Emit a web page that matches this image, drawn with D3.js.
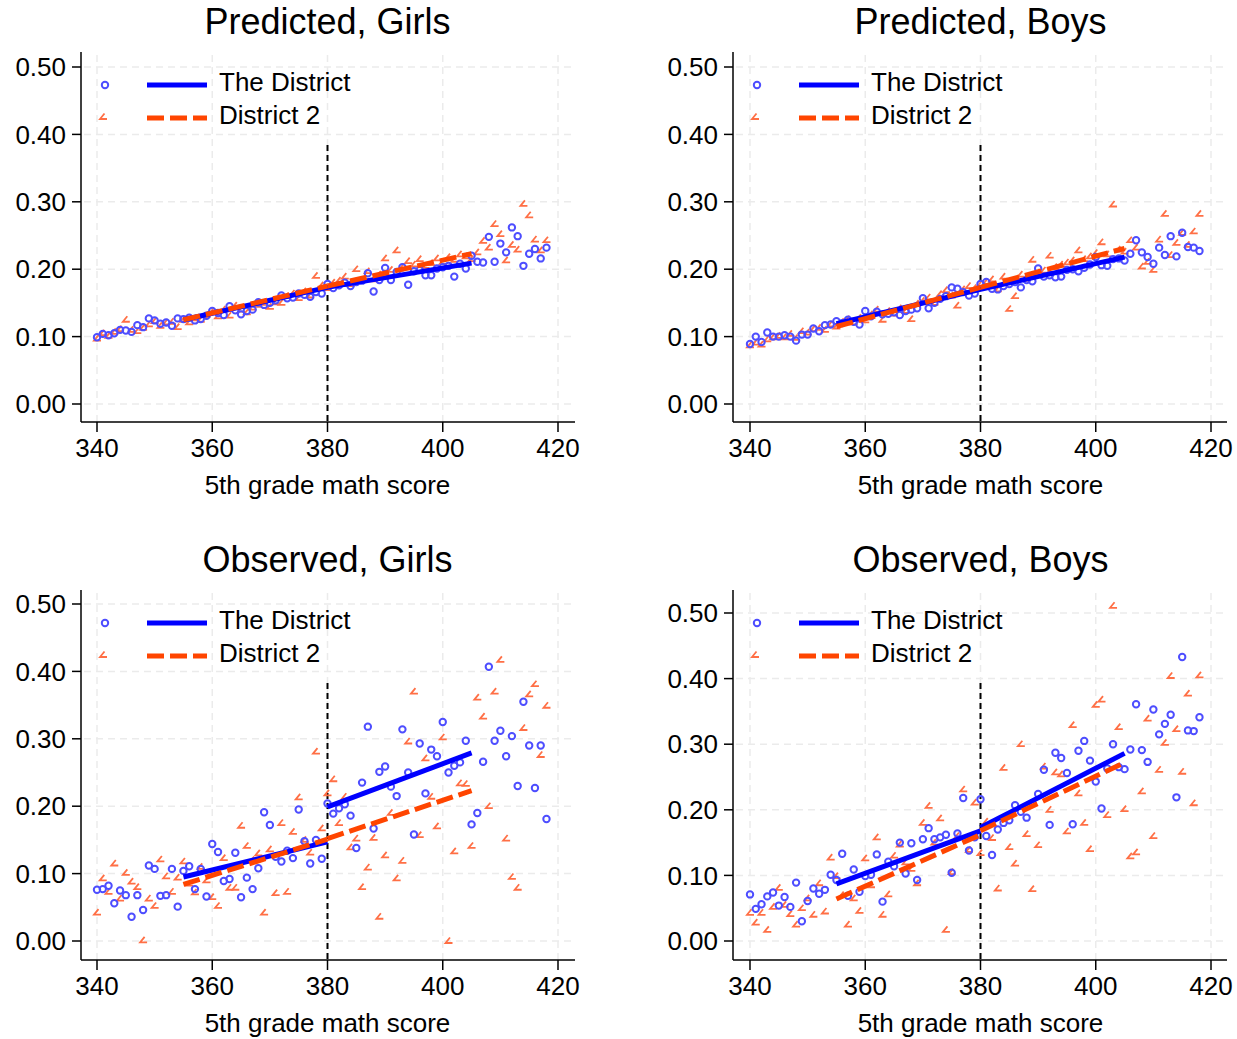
<!DOCTYPE html>
<html>
<head>
<meta charset="utf-8">
<script src="https://cdn.jsdelivr.net/npm/d3@7"></script>
<style>
  body { margin: 0; background: #fff; }
  svg { font-family: "Liberation Sans", Arial, sans-serif; }
</style>
</head>
<body>
<svg width="1237" height="1039"></svg>
<script>
// math scores 340..418, one point per score
const scores = d3.range(340, 419);
const xTicks = [340, 360, 380, 400, 420];
const yTicks = [0, 0.1, 0.2, 0.3, 0.4, 0.5];
const titles = ["Predicted, Girls", "Predicted, Boys", "Observed, Girls", "Observed, Boys"];
const seriesNames = ["The District", "District 2"];

const predGirlsDist = [
  .099,.104,.102,.105,.110,.109,.107,.117,.114,.127,
  .124,.119,.121,.116,.127,.126,.128,.124,.126,.131,
  .138,.135,.132,.145,.139,.133,.138,.140,.151,.147,
  .150,.154,.161,.157,.158,.164,.162,.159,.166,.164,
  .178,.172,.176,.180,.175,.181,.183,.194,.167,.184,
  .202,.184,.196,.203,.177,.197,.199,.191,.191,.201,
  .203,.205,.189,.208,.201,.220,.211,.210,.248,.211,
  .238,.225,.262,.249,.205,.223,.230,.216,.232];
const predGirlsD2 = [
  .097,.105,.101,.107,.111,.125,.110,.108,.113,.118,
  .123,.116,.121,.122,.114,.125,.121,.127,.125,.132,
  .137,.130,.140,.131,.146,.140,.136,.143,.147,.150,
  .144,.151,.150,.160,.164,.157,.167,.161,.190,.176,
  .172,.180,.183,.189,.178,.200,.184,.197,.185,.192,
  .216,.199,.228,.203,.212,.207,.215,.205,.209,.216,
  .211,.218,.214,.222,.219,.215,.225,.242,.232,.267,
  .252,.213,.236,.229,.297,.280,.244,.228,.243];
const predBoysDist = [
  .089,.100,.092,.106,.100,.100,.102,.100,.094,.103,
  .103,.112,.108,.117,.118,.123,.120,.125,.122,.118,
  .138,.130,.137,.133,.134,.136,.132,.138,.140,.142,
  .157,.142,.150,.156,.160,.173,.171,.166,.161,.164,
  .178,.181,.171,.170,.175,.178,.181,.173,.184,.182,
  .201,.189,.191,.188,.189,.199,.200,.197,.202,.207,
  .218,.206,.205,.215,.216,.213,.223,.243,.225,.218,
  .208,.232,.221,.249,.219,.254,.233,.232,.227];
const predBoysD2 = [
  .087,.091,.088,.096,.099,.101,.099,.104,.098,.108,
  .106,.111,.113,.110,.118,.115,.122,.126,.121,.128,
  .124,.133,.140,.125,.138,.134,.142,.138,.126,.149,
  .153,.158,.150,.163,.169,.161,.146,.170,.175,.172,
  .178,.181,.185,.170,.189,.141,.160,.192,.186,.214,
  .195,.198,.220,.203,.207,.210,.213,.228,.215,.219,
  .224,.240,.222,.296,.229,.226,.243,.232,.204,.211,
  .199,.244,.282,.221,.239,.254,.236,.256,.282];
const obsGirlsDist = [
  .076,.077,.082,.056,.075,.068,.036,.068,.046,.112,
  .107,.067,.068,.107,.051,.104,.111,.077,.107,.066,
  .144,.132,.089,.092,.131,.065,.094,.077,.108,.191,
  .172,.125,.118,.134,.123,.195,.148,.115,.150,.122,
  .204,.189,.197,.203,.186,.138,.235,.318,.167,.251,
  .259,.229,.215,.314,.250,.158,.293,.219,.284,.274,
  .325,.250,.260,.265,.297,.173,.190,.266,.407,.297,
  .312,.274,.304,.230,.355,.290,.227,.290,.181];
const obsGirlsD2 = [
  .042,.093,.073,.115,.063,.101,.088,.080,.001,.063,
  .052,.121,.096,.073,.094,.118,.085,.072,.110,.090,
  .065,.052,.123,.079,.079,.171,.141,.120,.130,.042,
  .136,.071,.175,.073,.162,.213,.150,.131,.281,.167,
  .219,.240,.175,.214,.139,.152,.080,.109,.153,.036,
  .127,.190,.093,.119,.296,.370,.157,.271,.214,.170,
  .302,.000,.133,.234,.233,.141,.361,.333,.200,.370,
  .417,.152,.095,.079,.316,.366,.381,.276,.349];
const obsBoysDist = [
  .071,.049,.056,.068,.074,.054,.067,.052,.089,.030,
  .061,.080,.072,.078,.101,.093,.133,.069,.109,.075,
  .099,.101,.132,.060,.121,.114,.150,.103,.149,.093,
  .155,.172,.155,.158,.162,.104,.164,.218,.138,.158,
  .216,.160,.131,.170,.180,.184,.207,.197,.188,.210,
  .224,.261,.177,.287,.279,.256,.178,.290,.305,.275,
  .243,.202,.263,.300,.265,.262,.292,.361,.291,.273,
  .353,.315,.331,.345,.219,.433,.321,.320,.341];
const obsBoysD2 = [
  .043,.028,.043,.017,.052,.081,.055,.041,.025,.050,
  .065,.040,.088,.045,.127,.099,.070,.025,.065,.046,
  .126,.085,.158,.040,.071,.130,.147,.120,.110,.088,
  .180,.206,.150,.187,.017,.105,.160,.231,.139,.211,
  .134,.182,.157,.080,.264,.143,.118,.300,.163,.079,
  .146,.266,.200,.257,.254,.167,.329,.225,.180,.140,
  .360,.368,.192,.511,.326,.201,.129,.135,.228,.339,
  .160,.261,.302,.404,.323,.258,.377,.210,.405];

// fitted lines: [score0, value0, score1, value1] for each side of the 380 cutoff
const fitPredGirlsDist = [[355, .125, 380, .173], [380, .173, 405, .209]];
const fitPredGirlsD2   = [[355, .125, 380, .175], [380, .175, 405, .223]];
const fitPredBoysDist  = [[355, .119, 380, .170], [380, .170, 405, .218]];
const fitPredBoysD2    = [[355, .115, 380, .173], [380, .173, 405, .231]];
const fitObsGirlsDist  = [[355, .095, 380, .147], [380, .199, 405, .279]];
const fitObsGirlsD2    = [[355, .084, 380, .151], [380, .152, 405, .223]];
const fitObsBoysDist   = [[355, .087, 380, .168], [380, .173, 405, .286]];
const fitObsBoysD2     = [[355, .064, 380, .162], [380, .168, 405, .272]];

const blue = "#0000ff", orange = "#ff4500";
const blueMark = "#4d4dff", orangeMark = "#ff6f45";

const panels = [
  {title: titles[0], s1: predGirlsDist, s2: predGirlsD2, f1: fitPredGirlsDist, f2: fitPredGirlsD2,
   left: 81, right: 575, top: 52, bottom: 422, xr: [97, 558], yr: [404, 67]},
  {title: titles[1], s1: predBoysDist, s2: predBoysD2, f1: fitPredBoysDist, f2: fitPredBoysD2,
   left: 733, right: 1227, top: 52, bottom: 422, xr: [750, 1211], yr: [404, 67]},
  {title: titles[2], s1: obsGirlsDist, s2: obsGirlsD2, f1: fitObsGirlsDist, f2: fitObsGirlsD2,
   left: 81, right: 575, top: 590, bottom: 960, xr: [97, 558], yr: [941, 604]},
  {title: titles[3], s1: obsBoysDist, s2: obsBoysD2, f1: fitObsBoysDist, f2: fitObsBoysD2,
   left: 733, right: 1227, top: 590, bottom: 960, xr: [750, 1211], yr: [941, 613]}
];

const svg = d3.select("svg");

// the little angle marker used for District 2
function angle(x, y) {
  return `M${x + 1.5},${y - 3.5} L${x - 3},${y + 2} L${x + 4},${y + 2}`;
}

panels.forEach(p => {
  const x = d3.scaleLinear().domain([340, 420]).range(p.xr);
  const y = d3.scaleLinear().domain([0, 0.5]).range(p.yr);
  const g = svg.append("g");

  // grid
  g.selectAll(".gy").data(yTicks).enter().append("line")
    .attr("x1", p.left + 3).attr("x2", p.right)
    .attr("y1", d => y(d)).attr("y2", d => y(d))
    .attr("stroke", "#ebebeb").attr("stroke-width", 1.5).attr("stroke-dasharray", "7,5");
  g.selectAll(".gx").data(xTicks).enter().append("line")
    .attr("x1", d => x(d)).attr("x2", d => x(d))
    .attr("y1", p.top + 3).attr("y2", p.bottom)
    .attr("stroke", "#ebebeb").attr("stroke-width", 1.5).attr("stroke-dasharray", "7,5");

  // cutoff line
  g.append("line")
    .attr("x1", x(380)).attr("x2", x(380))
    .attr("y1", p.top + 93).attr("y2", p.bottom)
    .attr("stroke", "#000").attr("stroke-width", 2).attr("stroke-dasharray", "6,4");

  // markers
  g.selectAll(".m2").data(scores).enter().append("path")
    .attr("d", (d, i) => angle(x(d), y(p.s2[i])))
    .attr("fill", "none").attr("stroke", orangeMark).attr("stroke-width", 1.8);
  g.selectAll(".m1").data(scores).enter().append("circle")
    .attr("cx", d => x(d)).attr("cy", (d, i) => y(p.s1[i])).attr("r", 3.2)
    .attr("fill", "none").attr("stroke", blueMark).attr("stroke-width", 2);

  // fit lines
  g.selectAll(".f1").data(p.f1).enter().append("line")
    .attr("x1", d => x(d[0])).attr("y1", d => y(d[1]))
    .attr("x2", d => x(d[2])).attr("y2", d => y(d[3]))
    .attr("stroke", blue).attr("stroke-width", 5);
  g.selectAll(".f2").data(p.f2).enter().append("line")
    .attr("x1", d => x(d[0])).attr("y1", d => y(d[1]))
    .attr("x2", d => x(d[2])).attr("y2", d => y(d[3]))
    .attr("stroke", orange).attr("stroke-width", 5).attr("stroke-dasharray", "17,6");

  // axes
  g.append("line").attr("x1", p.left).attr("x2", p.left).attr("y1", p.top).attr("y2", p.bottom)
    .attr("stroke", "#000").attr("stroke-width", 1.5);
  g.append("line").attr("x1", p.left).attr("x2", p.right).attr("y1", p.bottom).attr("y2", p.bottom)
    .attr("stroke", "#000").attr("stroke-width", 1.5);

  g.selectAll(".yt").data(yTicks).enter().append("line")
    .attr("x1", p.left - 9).attr("x2", p.left)
    .attr("y1", d => y(d)).attr("y2", d => y(d))
    .attr("stroke", "#000").attr("stroke-width", 1.5);
  g.selectAll(".yl").data(yTicks).enter().append("text")
    .attr("x", p.left - 15).attr("y", d => y(d)).attr("dy", "0.35em")
    .attr("text-anchor", "end").attr("font-size", 26)
    .text(d3.format(".2f"));

  g.selectAll(".xt").data(xTicks).enter().append("line")
    .attr("x1", d => x(d)).attr("x2", d => x(d))
    .attr("y1", p.bottom).attr("y2", p.bottom + 10)
    .attr("stroke", "#000").attr("stroke-width", 1.5);
  g.selectAll(".xl").data(xTicks).enter().append("text")
    .attr("x", d => x(d)).attr("y", p.bottom + 35)
    .attr("text-anchor", "middle").attr("font-size", 26)
    .text(d => d);

  const cx = (p.xr[0] + p.xr[1]) / 2;
  g.append("text").attr("x", cx).attr("y", p.bottom + 72)
    .attr("text-anchor", "middle").attr("font-size", 26)
    .text("5th grade math score");
  g.append("text").attr("x", cx).attr("y", p.top - 18)
    .attr("text-anchor", "middle").attr("font-size", 36)
    .text(p.title);

  // legend
  const ly1 = p.top + 33, ly2 = p.top + 66;
  g.append("circle").attr("cx", p.left + 24).attr("cy", ly1).attr("r", 3.2)
    .attr("fill", "none").attr("stroke", blueMark).attr("stroke-width", 2);
  g.append("path").attr("d", angle(p.left + 22, ly2 - 1))
    .attr("fill", "none").attr("stroke", orangeMark).attr("stroke-width", 1.8);
  g.append("line").attr("x1", p.left + 66).attr("x2", p.left + 126)
    .attr("y1", ly1).attr("y2", ly1).attr("stroke", blue).attr("stroke-width", 5);
  g.append("line").attr("x1", p.left + 66).attr("x2", p.left + 126)
    .attr("y1", ly2).attr("y2", ly2).attr("stroke", orange).attr("stroke-width", 5)
    .attr("stroke-dasharray", "17,6");
  g.append("text").attr("x", p.left + 138).attr("y", ly1 - 3).attr("dy", "0.35em")
    .attr("font-size", 26).text(seriesNames[0]);
  g.append("text").attr("x", p.left + 138).attr("y", ly2 - 3).attr("dy", "0.35em")
    .attr("font-size", 26).text(seriesNames[1]);
});
</script>
</body>
</html>
